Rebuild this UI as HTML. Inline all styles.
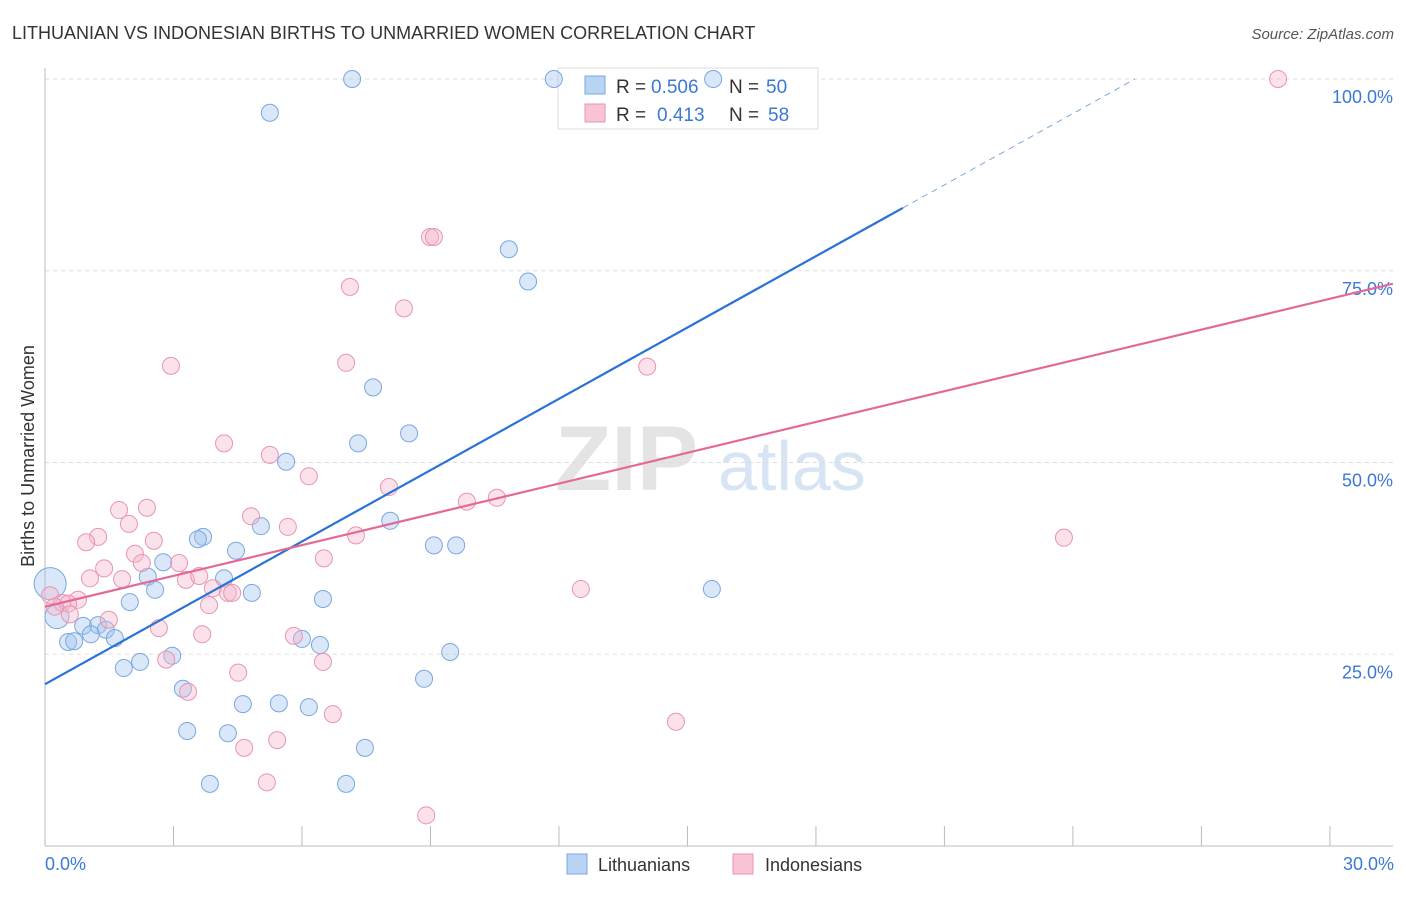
<!DOCTYPE html>
<html><head><meta charset="utf-8"><style>
body{margin:0;background:#fff;font-family:"Liberation Sans",sans-serif}
svg text{font-family:"Liberation Sans",sans-serif}
</style></head><body>
<svg id="chart" width="1406" height="892" xmlns="http://www.w3.org/2000/svg">
<text x="12" y="39" font-size="18" fill="#333">LITHUANIAN VS INDONESIAN BIRTHS TO UNMARRIED WOMEN CORRELATION CHART</text>
<text x="1394" y="39" font-size="15" fill="#555" text-anchor="end" font-style="italic">Source: ZipAtlas.com</text>
<g>
<text x="555" y="490" font-size="92" fill="#e4e4e4" font-family="Liberation Serif" font-weight="bold">ZIP</text>
<text x="718" y="490" font-size="70" fill="#d6e4f4">atlas</text>
</g>
<g id="grid"></g>
<g id="axes"></g>
<g>
<rect x="558" y="68" width="260" height="61" fill="#fff" stroke="#ddd"/>
<rect x="585" y="76" width="20" height="18" fill="#b9d3f3" stroke="#7aa7e0"/>
<text x="616" y="93" font-size="19" fill="#333">R =</text>
<text x="651" y="93" font-size="19" fill="#3b78d8">0.506</text>
<text x="729" y="93" font-size="19" fill="#333">N =</text>
<text x="766" y="93" font-size="19" fill="#3b78d8">50</text>
<rect x="585" y="104" width="20" height="18" fill="#f8c4d4" stroke="#e895b0"/>
<text x="616" y="121" font-size="19" fill="#333">R =</text>
<text x="657" y="121" font-size="19" fill="#3b78d8">0.413</text>
<text x="729" y="121" font-size="19" fill="#333">N =</text>
<text x="768" y="121" font-size="19" fill="#3b78d8">58</text>
</g>
<g id="points"></g>
<g id="trends"></g>
<text transform="translate(34,456) rotate(-90)" font-size="18" fill="#333" text-anchor="middle">Births to Unmarried Women</text>
<g>
<rect x="567" y="854" width="20" height="20" fill="#b9d3f3" stroke="#7aa7e0"/>
<text x="598" y="871" font-size="18" fill="#333">Lithuanians</text>
<rect x="733" y="854" width="20" height="20" fill="#f8c4d4" stroke="#e895b0"/>
<text x="765" y="871" font-size="18" fill="#333">Indonesians</text>
</g>
</svg>
<script>
const xTicks=[0,3,6,9,12,15,18,21,24,27,30];
const yTicks=[25,50,75,100];
const yTickLabels=["25.0%","50.0%","75.0%","100.0%"];
const xTickLabels=["0.0%","30.0%"];
const lithX=[7.17,11.88,15.60,5.25,10.83,11.28,7.66,8.50,7.31,5.63,8.06,5.04,3.69,3.57,4.46,9.08,9.60,2.76,2.40,4.18,2.57,4.83,15.57,1.98,6.49,0.89,1.24,1.42,1.07,1.63,0.54,0.68,6.00,6.42,9.46,2.97,2.22,1.84,3.22,8.85,5.46,4.62,6.16,3.32,4.27,7.47,3.85,7.03,0.12,0.28];
const lithY=[100,100,100,95.6,77.8,73.6,59.8,53.8,52.5,50.1,42.4,41.7,40.3,40.0,38.5,39.2,39.2,37.0,35.1,34.9,33.4,33.0,33.5,31.8,32.2,28.7,28.8,28.2,27.6,27.1,26.6,26.7,27.0,26.2,25.3,24.8,24.0,23.2,20.5,21.8,18.6,18.5,18.1,15.0,14.7,12.8,8.1,8.1,34.2,29.9];
const lithBig=[48,49];
const indoX=[28.79,8.99,9.08,7.12,8.38,2.94,7.03,14.06,4.18,5.25,6.16,8.03,9.85,10.55,2.38,1.73,4.81,1.96,5.67,1.24,0.96,2.54,7.26,23.79,2.10,6.51,1.38,2.26,3.13,1.05,1.80,3.29,3.60,3.92,4.27,4.37,12.51,0.12,0.77,0.40,0.54,0.23,0.58,3.83,1.49,2.66,3.67,5.81,6.49,2.83,4.51,3.34,6.72,14.73,5.42,4.65,5.18,8.90];
const indoY=[100,79.4,79.4,72.9,70.1,62.6,63.0,62.5,52.5,51.0,48.2,46.8,44.9,45.4,44.1,43.8,43.0,42.0,41.6,40.3,39.6,39.8,40.5,40.2,38.1,37.5,36.2,36.9,36.9,34.9,34.8,34.7,35.2,33.6,33.0,33.0,33.5,32.7,32.1,31.7,31.6,31.2,30.2,31.4,29.5,28.4,27.6,27.4,24.0,24.3,22.6,20.1,17.2,16.2,13.8,12.8,8.3,4.0];
const lithTrend=[21.1,3.1];
const indoTrend=[31.2,1.338];

const NS="http://www.w3.org/2000/svg";
const sx=v=>45+v*42.83, sy=v=>846-v*7.67;
function mk(tag,attrs,parent){const e=document.createElementNS(NS,tag);for(const k in attrs)e.setAttribute(k,attrs[k]);document.getElementById(parent).appendChild(e);return e;}
yTicks.forEach((t,i)=>{
 const g=mk('line',{x1:45,x2:1393,y1:sy(t),y2:sy(t),stroke:'#ddd','stroke-dasharray':'4,4'},'grid');
 
 
 const l=mk('text',{x:1393,y:sy(t)+24,'font-size':18,fill:'#3b78d8','text-anchor':'end'},'axes');
 l.textContent=yTickLabels[i];
 
 
});
const ax=mk('line',{x1:45,x2:45,y1:68,y2:846,stroke:'#bbb'},'axes');


const bx=mk('line',{x1:45,x2:1393,y1:846,y2:846,stroke:'#bbb'},'axes');


xTicks.forEach(t=>{
 const k=mk('line',{x1:sx(t),x2:sx(t),y1:826,y2:846,stroke:'#bbb'},'axes');
 
 
});
[[0,'start',45],[30,'end',1394]].forEach((a,i)=>{
 const l=mk('text',{x:a[2],y:870,'font-size':18,fill:'#3b78d8','text-anchor':a[1]},'axes');
 l.textContent=xTickLabels[i];
 
 
});
lithX.forEach((v,i)=>{
 const c=mk('circle',{cx:sx(v),cy:sy(lithY[i]),r:lithBig.includes(i)?(i==48?16:12):8.5,fill:'rgba(160,196,240,0.4)',stroke:'#7aa7e0','stroke-width':1},'points');
 
 
});
indoX.forEach((v,i)=>{
 const c=mk('circle',{cx:sx(v),cy:sy(indoY[i]),r:8.5,fill:'rgba(245,180,204,0.4)',stroke:'#e895b0','stroke-width':1},'points');
 
 
});
const xe=20.03, xd=(100-lithTrend[0])/lithTrend[1];
const t1=mk('line',{x1:sx(0),y1:sy(lithTrend[0]),x2:sx(xe),y2:sy(lithTrend[0]+lithTrend[1]*xe),stroke:'#2a72d4','stroke-width':2.2},'trends');


const t2=mk('line',{x1:sx(xe),y1:sy(lithTrend[0]+lithTrend[1]*xe),x2:sx(xd),y2:sy(100),stroke:'#7aa7e0','stroke-width':1,'stroke-dasharray':'6,5'},'trends');


const xm=31.47;
const t3=mk('line',{x1:sx(0),y1:sy(indoTrend[0]),x2:sx(xm),y2:sy(indoTrend[0]+indoTrend[1]*xm),stroke:'#e36a97','stroke-width':2.2},'trends');


</script>
</body></html>
